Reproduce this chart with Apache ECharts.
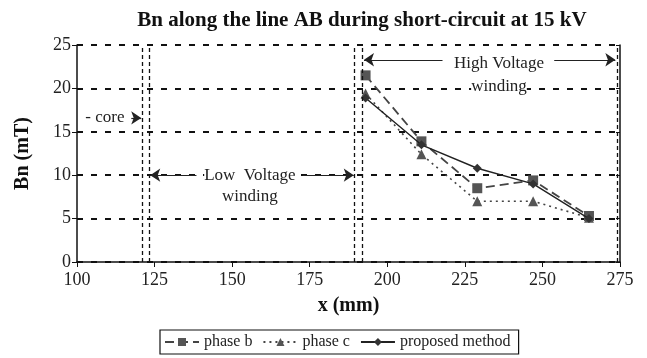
<!DOCTYPE html>
<html>
<head>
<meta charset="utf-8">
<script src="https://cdn.jsdelivr.net/npm/echarts@6/dist/echarts.min.js"></script>
<style>
  html, body { margin: 0; padding: 0; background: #fff; }
  #chart { width: 647px; height: 358px; }
</style>
</head>
<body>
<div id="chart"></div>
<script>
// positions along AB (mm)
const xValues = [193, 211, 229, 247, 265]
const phaseB = [21.5, 13.9, 8.5, 9.4, 5.3]
const phaseC = [19.4, 12.4, 7.0, 7.0, 5.1]
const proposed = [18.9, 13.5, 10.8, 9.0, 5.0]

const xTicks = [100, 125, 150, 175, 200, 225, 250, 275]
const yTicks = [0, 5, 10, 15, 20, 25]

// region boundaries (mm)
const boundaries = [121, 123.3, 189.5, 192, 274]

// arrows: [x1, y1, x2, y2], head at the second point
const arrows = [
  [138.5, 10, 123.6, 10],
  [172.7, 10, 189.2, 10],
  [217.8, 23.3, 192.5, 23.3],
  [253.8, 23.3, 273.5, 23.3],
  [117.5, 16.6, 120.7, 16.6],
]
// labels: [x, y, text]
const notes = [
  [155.7, 10, 'Low  Voltage'],
  [155.7, 7.5, 'winding'],
  [236, 22.9, 'High Voltage'],
  [236, 20.2, 'winding'],
  [109, 16.6, '- core'],
]

const serif = 'Liberation Serif'
const ink = '#222'

const chart = echarts.init(document.getElementById('chart'))

const toPairs = (ys) => ys.map((y, i) => [xValues[i], y])

const option = {
  animation: false,
  textStyle: { fontFamily: serif, color: ink },
  title: {
    text: 'Bn along the line AB during short-circuit at 15 kV',
    left: 357,
    top: 5,
    textAlign: 'center',
    textStyle: { fontFamily: serif, fontSize: 21, fontWeight: 'bold', color: '#111' },
  },
  grid: { left: 77, right: 27, top: 45, bottom: 96 },
  legend: {
    bottom: 4,
    left: 160,
    padding: [4, 8, 4, 4],
    borderColor: '#111',
    borderWidth: 1.2,
    itemWidth: 34,
    itemHeight: 10,
    itemGap: 10,
    textStyle: { fontFamily: serif, fontSize: 16, color: ink },
    data: ['phase b', 'phase c', 'proposed method'],
  },
  xAxis: {
    type: 'value',
    min: 100,
    max: 275,
    interval: 25,
    name: 'x (mm)',
    nameLocation: 'middle',
    nameGap: 34,
    nameTextStyle: { fontFamily: serif, fontSize: 20, fontWeight: 'bold', color: '#111' },
    axisLine: { lineStyle: { color: '#111', width: 1.5 } },
    axisTick: { length: 5, lineStyle: { color: '#111' } },
    axisLabel: { fontFamily: serif, fontSize: 18, color: ink, margin: 9 },
    splitLine: { show: false },
  },
  yAxis: [
    {
      type: 'value',
      min: 0,
      max: 25,
      interval: 5,
      name: 'Bn (mT)',
      nameLocation: 'middle',
      nameGap: 44,
      nameTextStyle: { fontFamily: serif, fontSize: 20, fontWeight: 'bold', color: '#111' },
      axisLine: { show: true, lineStyle: { color: '#111', width: 1.5 } },
      axisTick: { show: true, length: 5, lineStyle: { color: '#111' } },
      axisLabel: { fontFamily: serif, fontSize: 18, color: ink, margin: 6 },
      splitLine: { show: true, lineStyle: { color: '#111', type: [6, 8], width: 2 } },
    },
    {
      type: 'value',
      min: 0,
      max: 25,
      interval: 5,
      position: 'right',
      axisLine: { show: true, lineStyle: { color: '#111', width: 1.5 } },
      axisTick: { show: true, inside: true, length: 4, lineStyle: { color: '#111' } },
      axisLabel: { show: false },
      splitLine: { show: false },
    },
  ],
  series: [
    {
      name: 'phase b',
      type: 'line',
      data: toPairs(phaseB),
      symbol: 'rect',
      symbolSize: 10,
      lineStyle: { color: '#444', width: 1.8, type: [9, 5] },
      itemStyle: { color: '#555' },
      z: 3,
    },
    {
      name: 'phase c',
      type: 'line',
      data: toPairs(phaseC),
      symbol: 'triangle',
      symbolSize: 10,
      lineStyle: { color: '#444', width: 1.6, type: [2, 4] },
      itemStyle: { color: '#555' },
      z: 3,
    },
    {
      name: 'proposed method',
      type: 'line',
      data: toPairs(proposed),
      symbol: 'diamond',
      symbolSize: 9,
      lineStyle: { color: '#222', width: 1.4 },
      itemStyle: { color: '#333' },
      z: 4,
      markLine: {
        silent: true,
        symbol: 'none',
        label: { show: false },
        lineStyle: { color: '#111', type: [4, 3], width: 1.3 },
        data: boundaries.map((b) => ({ xAxis: b })),
      },
    },
    {
      name: 'annotations',
      type: 'line',
      data: [],
      markLine: {
        silent: true,
        symbol: ['none', 'arrow'],
        symbolSize: [10, 10],
        label: { show: false },
        lineStyle: { color: '#222', type: 'solid', width: 1.2 },
        data: arrows.map((a) => [{ coord: [a[0], a[1]] }, { coord: [a[2], a[3]] }]),
      },
      markPoint: {
        silent: true,
        symbol: 'circle',
        symbolSize: 0,
        label: {
          show: true,
          position: 'inside',
          fontFamily: serif,
          fontSize: 17,
          color: ink,
          backgroundColor: '#fff',
          formatter: (p) => p.data.value,
        },
        data: notes.map((n) => ({ coord: [n[0], n[1]], value: n[2] })),
      },
    },
  ],
}

chart.setOption(option)
</script>
</body>
</html>
